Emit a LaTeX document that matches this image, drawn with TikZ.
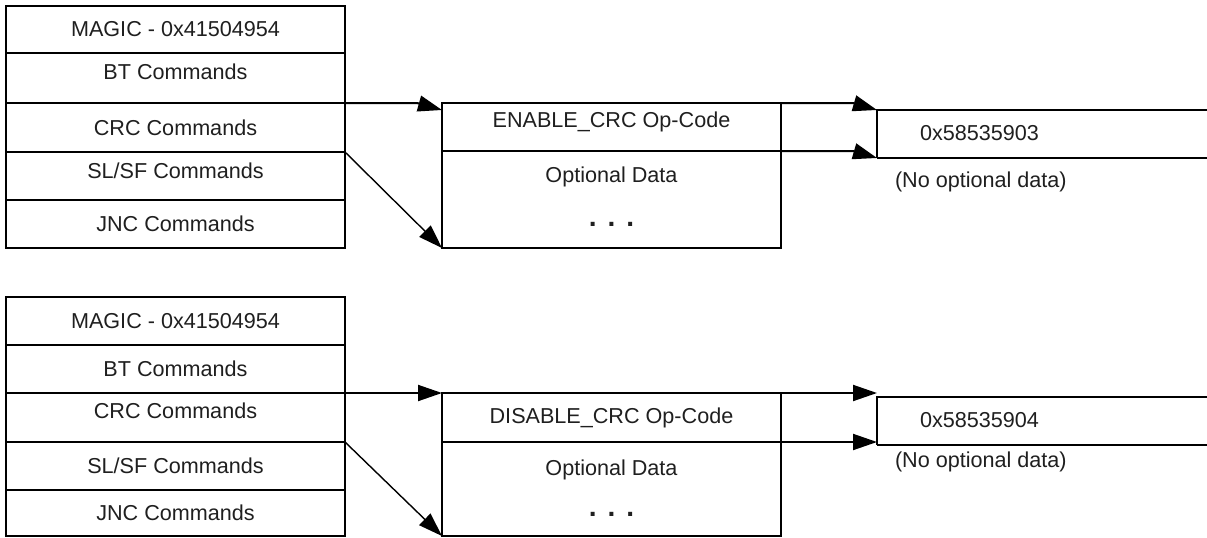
\documentclass[tikz,border=0pt]{standalone}
\usepackage{fontspec}
\setmainfont{Liberation Sans}
\usetikzlibrary{arrows.meta,positioning}

% raise a label inside its cell without changing the cell size
\newcommand{\lift}[2]{\raisebox{#1}[\height][\depth]{#2}}
\newcommand{\threedots}{{\fontsize{14}{14}\selectfont\bfseries .\hspace{5.5pt}.\hspace{5.5pt}.}}

\tikzset{
  cell/.style={draw, line width=1pt, inner sep=0pt, outer sep=0pt, minimum width=169.5pt},
  txt/.style={inner sep=0pt, outer sep=0pt, text=black!88},
  arr/.style={line width=1pt, -{Triangle[length=12pt,width=8pt]}},
  diag/.style={line width=0.7pt, -{Triangle[length=12pt,width=8pt]}},
}

\begin{document}
\begin{tikzpicture}[x=0.5pt, y=-0.5pt, font=\fontsize{10.8}{12}\selectfont, text=black!88]
    \useasboundingbox (0,0) rectangle (1207,537);

    % ENABLE_CRC
    \node[cell, minimum height=23.5pt, anchor=north west] (magic) at (6,6) {MAGIC - 0x41504954};
    \node[cell, minimum height=25pt, below=0pt of magic] (bt) {\lift{3pt}{BT Commands}};
    \node[cell, minimum height=24.5pt, below=0pt of bt] (crc) {CRC Commands};
    \node[cell, minimum height=24pt, below=0pt of crc] (slsf) {\lift{2.5pt}{SL/SF Commands}};
    \node[cell, minimum height=24pt, below=0pt of slsf] (jnc) {JNC Commands};

    \node[cell, minimum height=24pt, anchor=north west] (op) at (442,103) {\lift{2.5pt}{ENABLE\_CRC Op-Code}};
    \node[cell, minimum height=48.5pt, below=0pt of op] (data) {};
    \node[txt] (datatxt) at (611.5,177) {Optional Data};
    \node[txt] (dots) at (611.5,224) {\threedots};

    \node[inner sep=0pt, outer sep=0pt, minimum width=165pt, minimum height=24pt, anchor=north west] (val) at (877,110) {};
    \draw[line width=1pt] (val.north east) -- (val.north west) -- (val.south west);
    \draw[line width=0.7pt] (val.south west) -- (val.south east);
    \node[txt, anchor=west] (valtxt) at (920,133) {0x58535903};
    \node[txt, anchor=west] (nodata) at (895,182) {(No optional data)};

    \draw[arr] (crc.north east) -- ++(72,0) -- ([yshift=-3.5pt]op.north west);
    \draw[diag] (slsf.north east) -- (data.south west);
    \draw[arr] (op.north east) -- ++(72,0) -- (val.north west);
    \draw[arr] (op.south east) -- ++(72,0) -- (val.south west);

    % DISABLE_CRC
    \node[cell, minimum height=24pt, anchor=north west] (magic2) at (6,297) {MAGIC - 0x41504954};
    \node[cell, minimum height=24pt, below=0pt of magic2] (bt2) {BT Commands};
    \node[cell, minimum height=24.5pt, below=0pt of bt2] (crc2) {\lift{3.5pt}{CRC Commands}};
    \node[cell, minimum height=24pt, below=0pt of crc2] (slsf2) {SL/SF Commands};
    \node[cell, minimum height=23pt, below=0pt of slsf2] (jnc2) {JNC Commands};

    \node[cell, minimum height=24.5pt, anchor=north west] (op2) at (442,393) {DISABLE\_CRC Op-Code};
    \node[cell, minimum height=47pt, below=0pt of op2] (data2) {};
    \node[txt] (datatxt2) at (611.5,470) {Optional Data};
    \node[txt] (dots2) at (611.5,514) {\threedots};

    \node[inner sep=0pt, outer sep=0pt, minimum width=165pt, minimum height=24pt, anchor=north west] (val2) at (877,397) {};
    \draw[line width=1pt] (val2.north east) -- (val2.north west) -- (val2.south west);
    \draw[line width=0.7pt] (val2.south west) -- (val2.south east);
    \node[txt, anchor=west] (valtxt2) at (920,420) {0x58535904};
    \node[txt, anchor=west] (nodata2) at (895,462) {(No optional data)};

    \draw[arr] (crc2.north east) -- (op2.north west);
    \draw[diag] (slsf2.north east) -- (data2.south west);
    \draw[arr] (op2.north east) -- (op2.north east -| val2.west);
    \draw[arr] (op2.south east) -- (op2.south east -| val2.west);
\end{tikzpicture}
\end{document}
